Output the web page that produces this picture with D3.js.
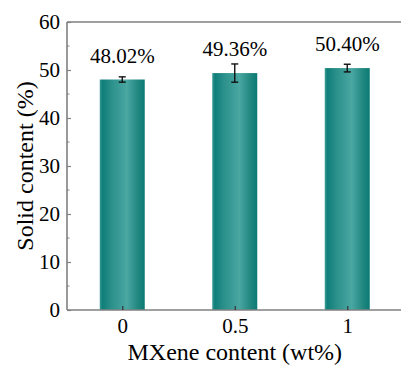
<!DOCTYPE html>
<html>
<head>
<meta charset="utf-8">
<script src="https://cdn.jsdelivr.net/npm/d3@7"></script>
<style>
  html, body { margin: 0; padding: 0; background: #fff; }
  svg { display: block; }
  svg text { fill: #000; }
</style>
</head>
<body>
<svg id="chart" width="401" height="372"></svg>
<script>
// Solid content of the slurry for each MXene loading
const categories = ["0", "0.5", "1"];
const values = [48.02, 49.36, 50.40];
const errors = [0.55, 1.9, 0.8];
const yTicks = [0, 10, 20, 30, 40, 50, 60];
const yMinorTicks = [5, 15, 25, 35, 45, 55];

const FONT = "'Times New Roman', 'Liberation Serif', 'DejaVu Serif', serif";
const svg = d3.select("#chart");
const margin = { left: 67, top: 22, bottom: 62 };
const W = 401, H = 372;

// x: categories spaced 112.5px apart; the plot frame runs past the right edge
const step = 112.5;
const x = d3.scalePoint()
  .domain(categories)
  .range([margin.left + step / 2 - 1, margin.left + step / 2 - 1 + step * 2]);
const barW = 45;

const y = d3.scaleLinear().domain([0, 60]).range([H - margin.bottom, margin.top]);

// horizontal gradient for the bars
const defs = svg.append("defs");
const grad = defs.append("linearGradient").attr("id", "barGrad")
  .attr("x1", "0%").attr("x2", "100%").attr("y1", "0%").attr("y2", "0%");
[
  [0, "#3a9a95"], [0.06, "#0f7e79"], [0.25, "#2a8f8a"], [0.6, "#4aa7a2"],
  [0.85, "#20877f"], [1, "#0b7a74"]
].forEach(([o, c]) => grad.append("stop").attr("offset", o).attr("stop-color", c));

// bars
svg.append("g").selectAll("rect")
  .data(values)
  .join("rect")
  .attr("x", (d, i) => x(categories[i]) - barW / 2)
  .attr("width", barW)
  .attr("y", d => y(d))
  .attr("height", d => y(0) - y(d))
  .attr("fill", "url(#barGrad)");

// error bars
const eb = svg.append("g").attr("stroke", "#111").attr("stroke-width", 1.4).attr("fill", "none");
values.forEach((v, i) => {
  const cx = x(categories[i]);
  const top = y(v + errors[i]), bot = y(v - errors[i]);
  eb.append("line").attr("x1", cx).attr("x2", cx).attr("y1", top).attr("y2", bot);
  eb.append("line").attr("x1", cx - 3.5).attr("x2", cx + 3.5).attr("y1", top).attr("y2", top);
  eb.append("line").attr("x1", cx - 3.5).attr("x2", cx + 3.5).attr("y1", bot).attr("y2", bot);
});

// value labels
svg.append("g").selectAll("text")
  .data(values)
  .join("text")
  .attr("x", (d, i) => x(categories[i]))
  .attr("y", d => y(d) - 17)
  .attr("text-anchor", "middle")
  .style("font-family", FONT)
  .style("font-size", "21px")
  .text(d => d.toFixed(2) + "%");

// frame lines
const axisColor = "#808080";
const frame = svg.append("g").attr("stroke", axisColor).attr("stroke-width", 1.6);
frame.append("line").attr("x1", margin.left).attr("x2", W).attr("y1", y(0)).attr("y2", y(0));
frame.append("line").attr("x1", margin.left).attr("x2", W).attr("y1", y(60)).attr("y2", y(60));
frame.append("line").attr("x1", margin.left).attr("x2", margin.left).attr("y1", y(60)).attr("y2", y(0));

// y axis: inward ticks with minor ticks
const yAxis = d3.axisLeft(y).tickValues(yTicks).tickSizeInner(-4).tickSizeOuter(0).tickPadding(7);
const yg = svg.append("g").attr("transform", `translate(${margin.left},0)`).call(yAxis)
  .attr("font-family", FONT).attr("font-size", 21);
yg.select(".domain").remove();
yg.selectAll(".tick line").attr("stroke", axisColor).attr("stroke-width", 1.2);
yg.selectAll(".tick text").style("font-family", FONT).style("font-size", "21px");
svg.append("g").attr("stroke", axisColor).attr("stroke-width", 1)
  .selectAll("line").data(yMinorTicks).join("line")
  .attr("x1", margin.left).attr("x2", margin.left + 2.5)
  .attr("y1", d => y(d)).attr("y2", d => y(d));

// x axis: inward ticks
const xAxis = d3.axisBottom(x).tickSizeInner(-4).tickSizeOuter(0).tickPadding(8);
const xg = svg.append("g").attr("transform", `translate(0,${y(0)})`).call(xAxis)
  .attr("font-family", FONT).attr("font-size", 21);
xg.select(".domain").remove();
xg.selectAll(".tick line").attr("stroke", "#333").attr("stroke-width", 1.2);
xg.selectAll(".tick text").style("font-family", FONT).style("font-size", "21px");

// axis titles
svg.append("text")
  .attr("x", x("0.5"))
  .attr("y", 360)
  .attr("text-anchor", "middle")
  .style("font-family", FONT)
  .style("font-size", "24px")
  .text("MXene content (wt%)");

svg.append("text")
  .attr("transform", `translate(33,${(y(0) + y(60)) / 2}) rotate(-90)`)
  .attr("text-anchor", "middle")
  .style("font-family", FONT)
  .style("font-size", "24px")
  .text("Solid content (%)");
</script>
</body>
</html>
